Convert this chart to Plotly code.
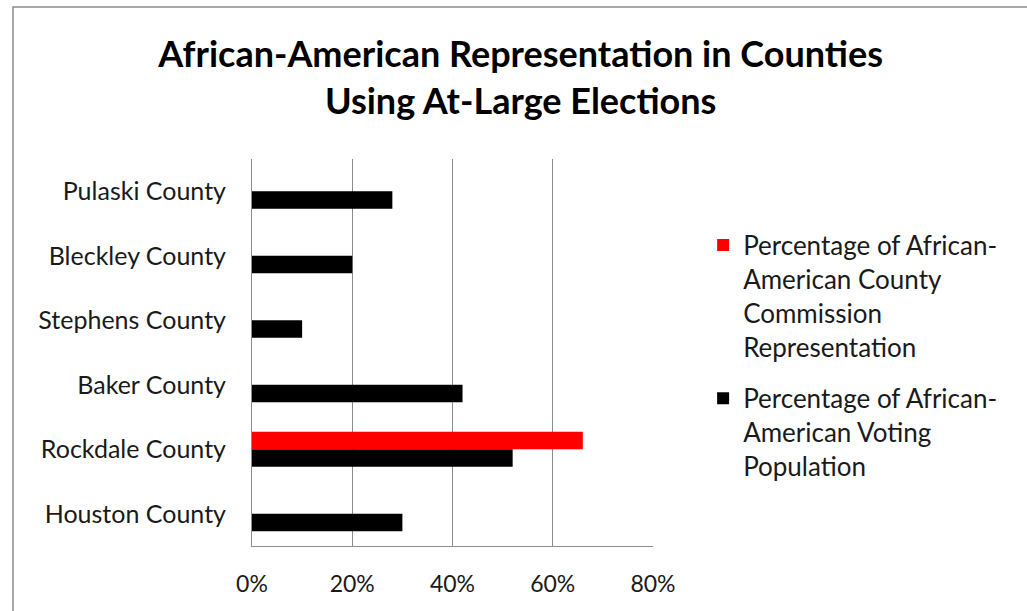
import plotly.graph_objects as go

counties = ["Houston County", "Rockdale County", "Baker County", "Stephens County", "Bleckley County", "Pulaski County"]
voting_pop = [0.30, 0.52, 0.42, 0.10, 0.20, 0.28]
commission_rep = [0, 0.66, 0, 0, 0, 0]
x_ticks = [0, 0.2, 0.4, 0.6, 0.8]
x_tick_labels = ["0%", "20%", "40%", "60%", "80%"]

FONT = "Lato"

fig = go.Figure()
fig.add_trace(go.Bar(
    y=counties, x=voting_pop, orientation="h",
    name="Percentage of African-<br>American Voting<br>Population",
    marker=dict(color="#000000", line=dict(width=0)),
    legendrank=2, legendgroup="b",
))
fig.add_trace(go.Bar(
    y=counties, x=commission_rep, orientation="h",
    name="Percentage of African-<br>American County<br>Commission<br>Representation",
    marker=dict(color="#ff0000", line=dict(width=0)),
    legendrank=1, legendgroup="a",
))

fig.update_layout(
    width=1027, height=611,
    margin=dict(l=252, r=374, t=159, b=65),
    paper_bgcolor="white", plot_bgcolor="white",
    barmode="group", bargap=0.455, bargroupgap=0,
    font=dict(family=FONT, size=23, color="#1a1a1a"),
    title=dict(
        text="<b>African-American Representation in Counties<br>Using At-Large Elections</b>",
        x=0.507, xanchor="center", y=0.89, yanchor="middle",
        font=dict(family=FONT, size=36, color="#000000"),
    ),
    legend=dict(
        x=1.125, xanchor="left", y=0.838, yanchor="top",
        font=dict(family=FONT, size=26, color="#1a1a1a"),
        itemwidth=30, tracegroupgap=15, valign="top",
        bgcolor="rgba(0,0,0,0)",
    ),
    showlegend=True,
)

fig.update_xaxes(
    range=[0, 0.8], tickvals=x_ticks, ticktext=x_tick_labels,
    showgrid=True, gridcolor="#8c8c8c", gridwidth=1,
    showline=True, linecolor="#8c8c8c", linewidth=1,
    ticks="", zeroline=False, ticklabelstandoff=17,
    tickfont=dict(family=FONT, size=23, color="#1a1a1a"),
)
fig.update_yaxes(
    showgrid=False, showline=True, linecolor="#8c8c8c", linewidth=1,
    ticks="", ticklabelstandoff=20,
    tickfont=dict(family=FONT, size=25, color="#1a1a1a"),
)

# outer chart border
fig.add_shape(type="rect", xref="paper", yref="paper",
              x0=(13 - 252) / 401, x1=3, y0=-0.5, y1=(546 - 7) / 387,
              line=dict(color="#8c8c8c", width=1.5), fillcolor="rgba(0,0,0,0)", layer="below")

fig.write_html("out.html")
